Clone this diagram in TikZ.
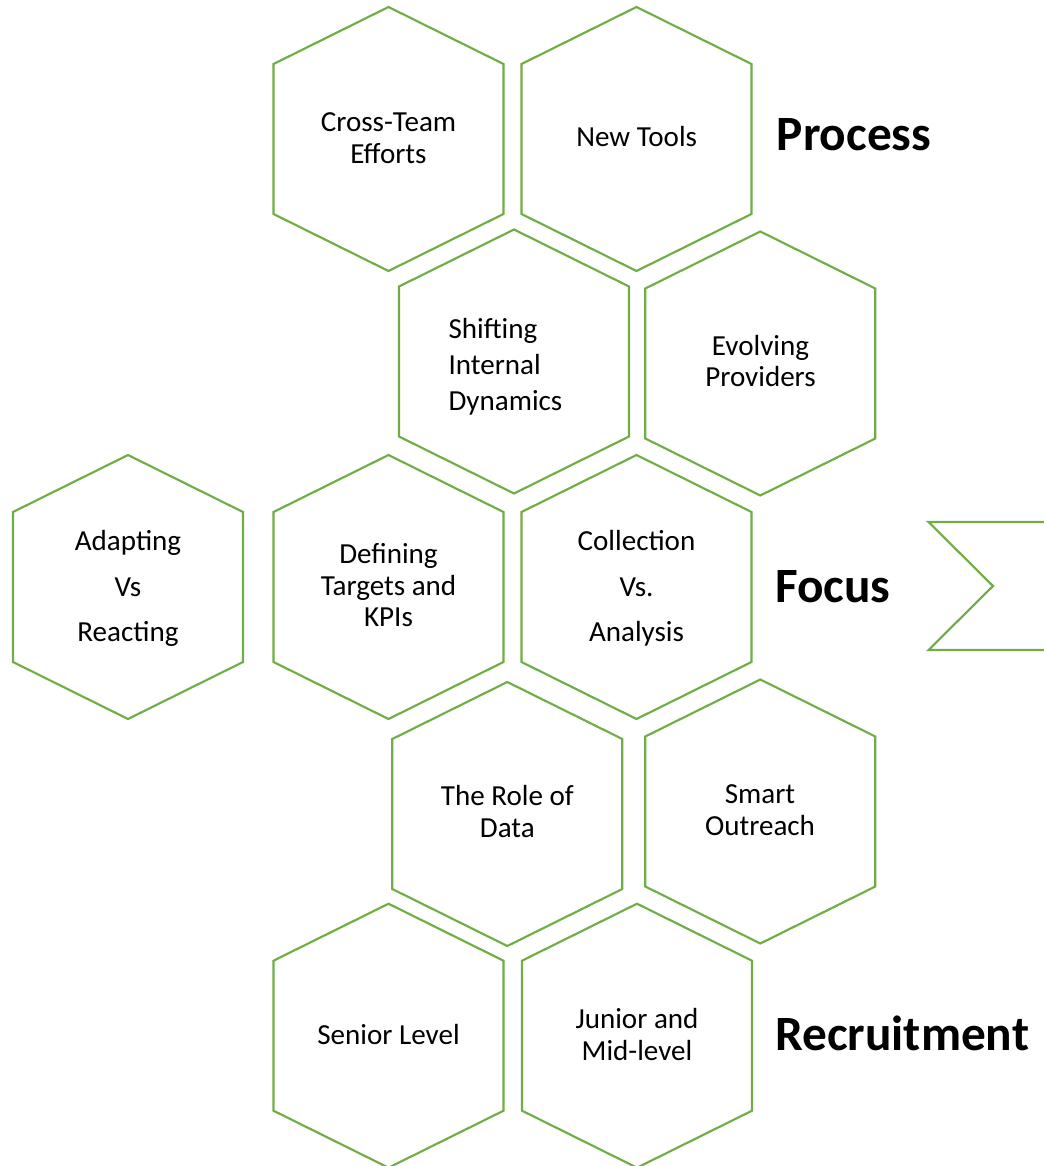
\documentclass[tikz,border=0pt]{standalone}
\usepackage{fontspec}
\setmainfont{Carlito}
\definecolor{hexgreen}{RGB}{112,173,71}
\tikzset{
  hexline/.style={draw=hexgreen, line width=1.6pt, line join=miter},
  hex/.pic={\path[hexline] (0,-132) -- (115,-75) -- (115,75) -- (0,132) -- (-115,75) -- (-115,-75) -- cycle;},
  lbl/.style={anchor=base, inner sep=0pt, font=\fontsize{21.8pt}{24pt}\selectfont},
  lblw/.style={anchor=base west, inner sep=0pt, font=\fontsize{21.8pt}{24pt}\selectfont},
  ttl/.style={anchor=base west, inner sep=0pt, font=\fontsize{37pt}{40pt}\selectfont\bfseries}
}
\begin{document}
\begin{tikzpicture}[x=0.75pt, y=-0.75pt]
\useasboundingbox (0,0) rectangle (1043,1166);
% hexagons
\pic at (388.5,139) {hex};
\pic at (636.5,139) {hex};
\pic at (514,361.5) {hex};
\pic at (760.3,363.5) {hex};
\pic at (128,587) {hex};
\pic at (388.5,587) {hex};
\pic at (636.5,587) {hex};
\pic at (507.3,814) {hex};
\pic at (760.3,811.5) {hex};
\pic at (388.5,1035.7) {hex};
\pic at (637,1035.7) {hex};
% chevron
\coordinate (chtr) at (1050,522);
\coordinate (chbr) at (1050,650);
\path[hexline] (chtr) -- (928.5,522) -- (993,586) -- (928.5,650) -- (chbr);
% labels
\node[lbl] (ct1) at (388.5,131.7) {Cross-Team};
\node[lbl] (ct2) at (388.5,163.3) {Efforts};
\node[lbl] (nt) at (636.7,146.7) {New Tools};
\node[lblw] (sh1) at (448.3,338.3) {Shifting};
\node[lblw] (sh2) at (448.3,374) {Internal};
\node[lblw] (sh3) at (448.3,410) {Dynamics};
\node[lbl] (ev1) at (760.5,355) {Evolving};
\node[lbl] (ev2) at (760.5,386.7) {Providers};
\node[lbl] (ad1) at (128,550) {Adapting};
\node[lbl] (ad2) at (128,596) {Vs};
\node[lbl] (ad3) at (128,641) {Reacting};
\node[lbl] (df1) at (388.5,563.3) {Defining};
\node[lbl] (df2) at (388.5,595) {Targets and};
\node[lbl] (df3) at (388.5,626.7) {KPIs};
\node[lbl] (co1) at (636.5,550) {Collection};
\node[lbl] (co2) at (636.5,596) {Vs.};
\node[lbl] (co3) at (636.5,641) {Analysis};
\node[lbl] (rd1) at (507.3,805) {The Role of};
\node[lbl] (rd2) at (507.3,837.7) {Data};
\node[lbl] (so1) at (760,803.3) {Smart};
\node[lbl] (so2) at (760,835.7) {Outreach};
\node[lbl] (sl) at (388.5,1044) {Senior Level};
\node[lbl] (jm1) at (637,1028.3) {Junior and};
\node[lbl] (jm2) at (637,1060) {Mid-level};
% titles
\node[ttl] (process) at (776.5,150.7) {Process};
\node[ttl] (focus) at (775,602.7) {Focus};
\node[ttl] (recruit) at (775,1050) {Recruitment};
\end{tikzpicture}
\end{document}
